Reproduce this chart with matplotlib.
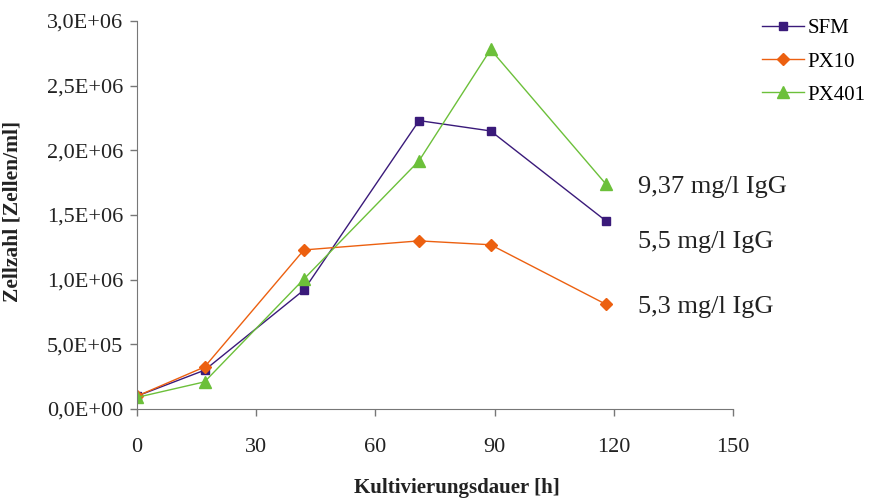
import matplotlib
matplotlib.use('Agg')
import matplotlib.pyplot as plt
from matplotlib.ticker import FuncFormatter

# Kultivierungsdauer in Stunden
zeit = [0, 17, 42, 71, 89, 118]

# Zellzahl [Zellen/ml]
sfm = [1.0e5, 3.0e5, 0.92e6, 2.23e6, 2.15e6, 1.455e6]
px10 = [1.0e5, 3.25e5, 1.23e6, 1.30e6, 1.27e6, 0.81e6]
px401 = [0.9e5, 2.1e5, 1.005e6, 1.92e6, 2.78e6, 1.74e6]

# IgG-Titer am Ende
igg_texte = ['9,37 mg/l IgG', '5,5 mg/l IgG', '5,3 mg/l IgG']
igg_y = [1.716e6, 1.29e6, 0.79e6]

x_ticks = [0, 30, 60, 90, 120, 150]
y_ticks = [0, 5e5, 1e6, 1.5e6, 2e6, 2.5e6, 3e6]

plt.rcParams['font.family'] = ['Liberation Serif', 'DejaVu Serif']

fig = plt.figure(figsize=(8.7, 4.98), dpi=100)
ax = fig.add_axes([0.1575, 0.1787, 0.685, 0.7791])

ax.plot(zeit, sfm, color='#3a1a7a', marker='s', markersize=6, linewidth=1, label='SFM')
ax.plot(zeit, px10, color='#ec6010', marker='D', markersize=6.5, linewidth=1, label='PX10')
ax.plot(zeit, px401, color='#6cc03a', marker='^', markersize=9, linewidth=1, label='PX401')

for txt, yy in zip(igg_texte, igg_y):
    ax.text(126.1, yy, txt, fontsize=19, va='center', ha='left', color='#222222')

ax.set_xlim(0, 150)
ax.set_ylim(0, 3e6)
ax.set_xticks(x_ticks)
ax.set_yticks(y_ticks)


def sci_komma(v, pos):
    if v == 0:
        return '0,0E+00'
    s = '%.1E' % v
    return s.replace('.', ',')


ax.yaxis.set_major_formatter(FuncFormatter(sci_komma))
ax.tick_params(labelsize=16, colors='#222222', direction='out', length=5, width=1)
ax.tick_params(axis='both', color='#777777')
ax.tick_params(axis='x', pad=16)
ax.tick_params(axis='y', pad=5)
for side in ['top', 'right']:
    ax.spines[side].set_visible(False)
for side in ['left', 'bottom']:
    ax.spines[side].set_color('#777777')

ax.set_xlabel('Kultivierungsdauer [h]', fontsize=15, fontweight='bold', color='#222222')
ax.xaxis.set_label_coords(0.537, -0.178)
ax.set_ylabel('Zellzahl [Zellen/ml]', fontsize=15.5, fontweight='bold', color='#222222')
ax.yaxis.set_label_coords(-0.193, 0.51)

leg = ax.legend(loc='upper left', bbox_to_anchor=(1.017, 1.054), frameon=False, fontsize=15,
                handlelength=2.0, handletextpad=0.2, labelspacing=0.65)

fig.savefig('out.png', dpi=100)
